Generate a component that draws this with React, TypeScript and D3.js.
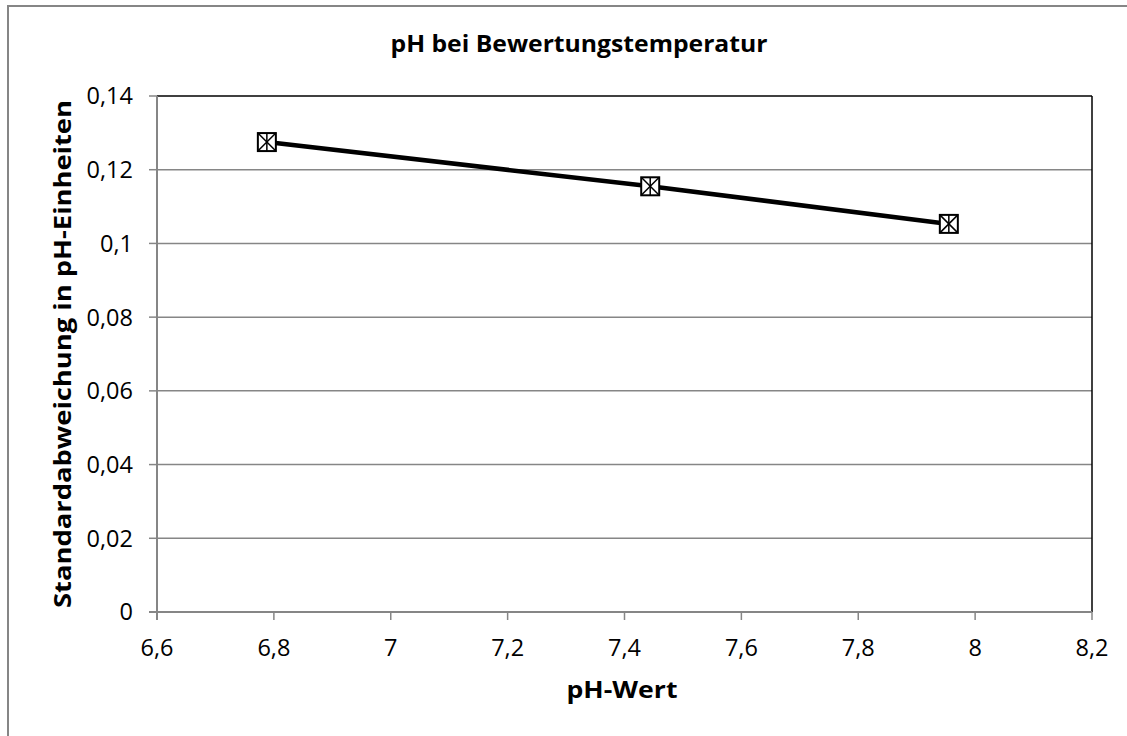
import React from "react";
import * as d3 from "d3";

const phValues = [6.788, 7.444, 7.955];
const stdDev = [0.1275, 0.1155, 0.1053];
const xTicks = [6.6, 6.8, 7.0, 7.2, 7.4, 7.6, 7.8, 8.0, 8.2];
const yTicks = [0, 0.02, 0.04, 0.06, 0.08, 0.1, 0.12, 0.14];
const title = "pH bei Bewertungstemperatur";
const xTitle = "pH-Wert";
const yTitle = "Standardabweichung in pH-Einheiten";

const W = 1127;
const H = 736;
const L = 157, R = 1092, T = 96, B = 612;
const FONT = "'Open Sans', Lato, sans-serif";
const FS = 23.5;

const fmt = (v: number) => {
  const s = d3.format("~g")(+v.toFixed(4));
  return s.replace(".", ",");
};

export default function App() {
  const x = d3.scaleLinear().domain([6.6, 8.2]).range([L, R]);
  const y = d3.scaleLinear().domain([0, 0.14]).range([B, T]);
  const pts = phValues.map((p, i) => [x(p), y(stdDev[i])] as [number, number]);
  const line = d3.line()(pts) || "";
  const ms = 9;
  return (
    <svg width={W} height={H} style={{ position: "absolute", left: 0, top: 0, background: "#fff" }}>
      <rect x={8} y={6} width={1130} height={740} fill="#fff" stroke="#868686" strokeWidth={2} />
      {yTicks.map((t) => (
        <g key={"y" + t}>
          {t > 0 && t < 0.14 && (
            <line x1={L} x2={R} y1={y(t)} y2={y(t)} stroke="#868686" strokeWidth={1.5} />
          )}
          <line x1={L - 8} x2={L} y1={y(t)} y2={y(t)} stroke="#868686" strokeWidth={1.5} />
          <text x={133} y={y(t)} dy="0.36em" textAnchor="end" fontFamily={FONT} fontSize={FS} fill="#000">
            {fmt(t)}
          </text>
        </g>
      ))}
      {xTicks.map((t) => (
        <g key={"x" + t}>
          <line x1={x(t)} x2={x(t)} y1={B} y2={B + 8} stroke="#868686" strokeWidth={1.5} />
          <text x={x(t)} y={656} textAnchor="middle" fontFamily={FONT} fontSize={FS} fill="#000">
            {fmt(t)}
          </text>
        </g>
      ))}
      <line x1={L} x2={R} y1={T} y2={T} stroke="#000" strokeWidth={1.5} />
      <line x1={R} x2={R} y1={T} y2={B} stroke="#000" strokeWidth={1.5} />
      <line x1={L} x2={L} y1={T} y2={B + 8} stroke="#868686" strokeWidth={2} />
      <line x1={L - 8} x2={R} y1={B} y2={B} stroke="#868686" strokeWidth={2} />
      <path d={line} fill="none" stroke="#000" strokeWidth={4.5} />
      {pts.map(([cx, cy], i) => (
        <g key={"m" + i}>
          <rect x={cx - ms} y={cy - ms} width={ms * 2} height={ms * 2} fill="#fff" stroke="#000" strokeWidth={2} />
          <line x1={cx - ms} y1={cy - ms} x2={cx + ms} y2={cy + ms} stroke="#000" strokeWidth={1.5} />
          <line x1={cx - ms} y1={cy + ms} x2={cx + ms} y2={cy - ms} stroke="#000" strokeWidth={1.5} />
          <line x1={cx} y1={cy - ms} x2={cx} y2={cy + ms} stroke="#000" strokeWidth={1.5} />
        </g>
      ))}
      <text x={579} y={52} textAnchor="middle" fontFamily={FONT} fontWeight="bold" fontSize={FS}
        textLength={377} lengthAdjust="spacingAndGlyphs" fill="#000">
        {title}
      </text>
      <text x={622} y={698} textAnchor="middle" fontFamily={FONT} fontWeight="bold" fontSize={FS}
        textLength={111} lengthAdjust="spacingAndGlyphs" fill="#000">
        {xTitle}
      </text>
      <text
        transform={`translate(71, ${(T + B) / 2}) rotate(-90)`}
        textAnchor="middle"
        fontFamily={FONT}
        fontWeight="bold"
        fontSize={FS}
        textLength={508}
        lengthAdjust="spacingAndGlyphs"
        fill="#000"
      >
        {yTitle}
      </text>
    </svg>
  );
}
